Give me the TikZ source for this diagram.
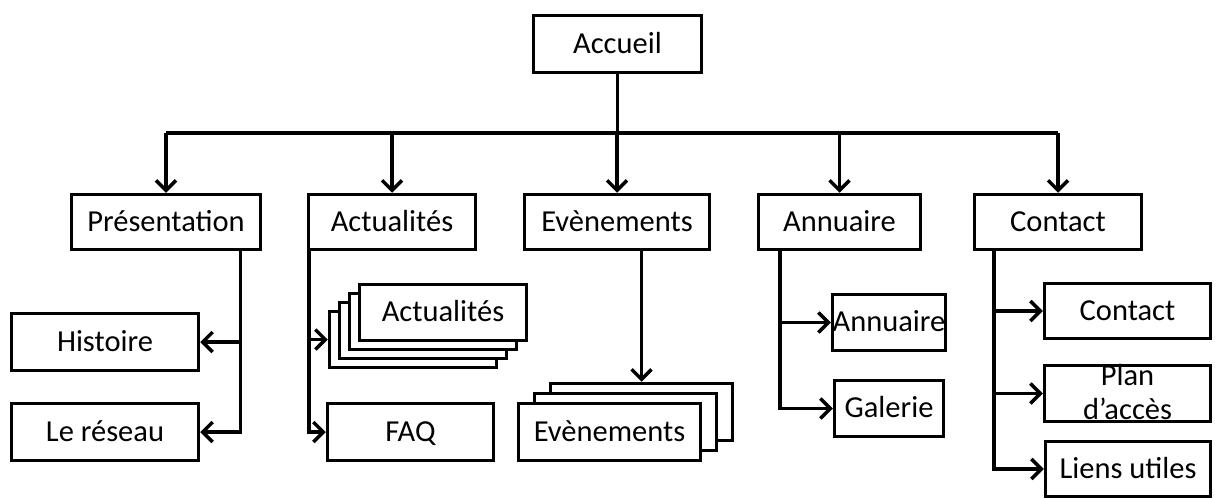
\documentclass[tikz,border=0pt]{standalone}
\usepackage{fontspec}
\setmainfont{Carlito}
\usepackage{tikz}
\usetikzlibrary{arrows.meta}
\tikzstyle{arrow} = [line width=3.5pt,-{Straight Barb[length=10pt,width=20pt]}]
\tikzstyle{linea} = [line width=3.5pt]
\tikzstyle{caja} = [draw,line width=3.5pt,fill=white,inner sep=0pt,text height=20pt,text depth=2pt,font=\fontsize{30.5}{35}\selectfont]

\begin{document}
\begin{tikzpicture}[x=1pt,y=-1pt]
		\useasboundingbox (0,0) rectangle (1215,498);
		% raiz
		\node[caja,minimum width=168pt,minimum height=57pt] (acc) at (617.5,44) {Accueil};
		% primer nivel
		\foreach \Xc/\W/\Nom/\Texto in 
		{166/189/pres/Présentation,392/167/actu/Actualités,617/185/even/Evènements,839.5/162/annu/Annuaire,1058/167/cont/Contact}
		{
			\node[caja,minimum width=\W pt,minimum height=55pt] (\Nom) at (\Xc,222) {\Texto};
		}
		\coordinate (bus) at (0,133);
		\draw[linea] (acc.south) -- (acc.south |- bus);
		\draw[linea] (pres.north |- bus) -- (cont.north |- bus);
		\foreach \Nom in {pres,actu,even,annu,cont}
		{
			\draw[arrow] (\Nom.north |- bus) -- (\Nom.north);
		}
		% Presentation
		\node[caja,minimum width=187pt,minimum height=57pt] (hist) at (105,342) {Histoire};
		\node[caja,minimum width=187pt,minimum height=57pt] (reseau) at (105,432) {Le réseau};
		\coordinate (pdrop) at ([xshift=-22pt]pres.south east);
		\draw[arrow] (pdrop) |- (reseau.east);
		\draw[arrow] (pdrop |- hist.east) -- (hist.east);
		% Actualites
		\foreach \k in {3,2,1}
		{
			\node[caja,minimum width=167pt,minimum height=56pt] (actu\k) at (443-10*\k,312.5+9*\k) {};
		}
		\node[caja,minimum width=167pt,minimum height=56pt] (actu0) at (443,312.5) {Actualités};
		\node[caja,minimum width=166pt,minimum height=57pt] (faq) at (410.5,432) {FAQ};
		\coordinate (adrop) at ([xshift=2pt]actu.south west);
		\draw[arrow] (adrop) |- (faq.west);
		\draw[arrow] (adrop |- actu3.west) -- (actu3.west);
		% Evenements
		\foreach \k in {2,1}
		{
			\node[caja,minimum width=182pt,minimum height=57pt] (evt\k) at (609.5+16*\k,432-10*\k) {};
		}
		\node[caja,minimum width=182pt,minimum height=57pt] (evt0) at (609.5,432) {Evènements};
		\draw[arrow] (evt2.north |- even.south) -- (evt2.north);
		% Annuaire
		\node[caja,minimum width=109pt,minimum height=56pt] (annu2) at (889,322.5) {Annuaire};
		\node[caja,minimum width=109pt,minimum height=56pt] (gal) at (889,408.5) {Galerie};
		\coordinate (ndrop) at ([xshift=23pt]annu.south west);
		\draw[arrow] (ndrop) |- (gal.west);
		\draw[arrow] (ndrop |- annu2.west) -- (annu2.west);
		% Contact
		\node[caja,minimum width=166pt,minimum height=55pt] (ccon) at (1127.5,311) {Contact};
		\node[caja,minimum width=166pt,minimum height=56pt] (plan) at (1127.5,393.5) {};
		\node[font=\fontsize{30.5}{34}\selectfont,align=center,inner sep=0pt] (plantxt) at ([yshift=1pt]plan.center) {Plan\\d’accès};
		\node[caja,minimum width=165pt,minimum height=55pt] (liens) at (1128,469) {Liens utiles};
		\coordinate (cdrop) at ([xshift=21pt]cont.south west);
		\draw[arrow] (cdrop) |- (liens.west);
		\draw[arrow] (cdrop |- ccon.west) -- (ccon.west);
		\draw[arrow] (cdrop |- plan.west) -- (plan.west);
\end{tikzpicture}
\end{document}
